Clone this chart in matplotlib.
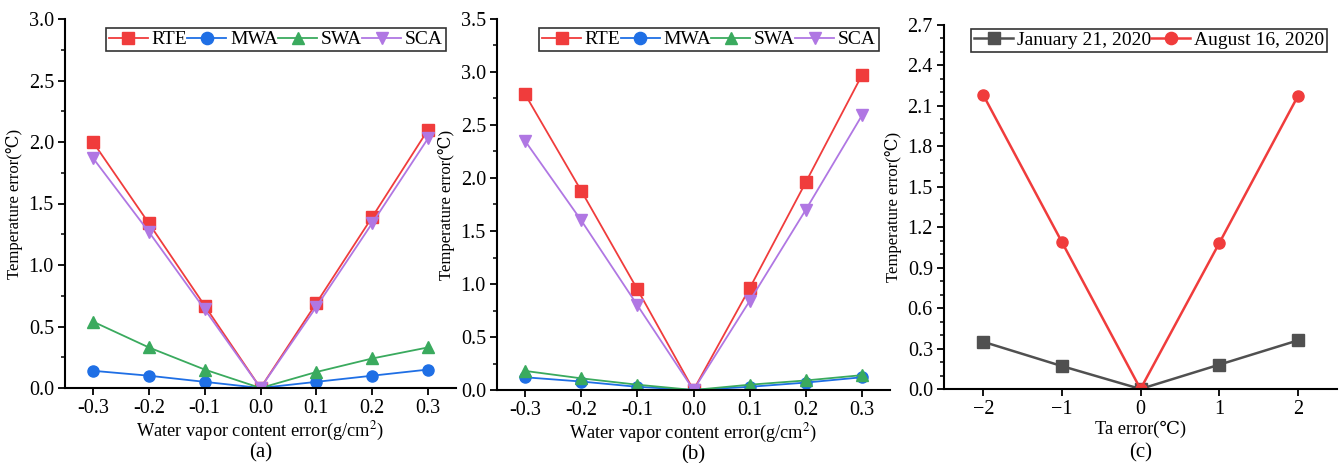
import matplotlib
matplotlib.use("Agg")
import matplotlib.pyplot as plt
from matplotlib.ticker import MultipleLocator, FormatStrFormatter

plt.rcParams['font.family'] = ['Liberation Serif', 'DejaVu Serif']
plt.rcParams['mathtext.fontset'] = 'stix'

# data
wv_x = [-0.3, -0.2, -0.1, 0.0, 0.1, 0.2, 0.3]
a_rte = [2.00, 1.34, 0.67, 0.0, 0.69, 1.39, 2.10]
a_mwa = [0.14, 0.10, 0.05, 0.0, 0.05, 0.10, 0.15]
a_swa = [0.54, 0.33, 0.15, 0.0, 0.13, 0.24, 0.33]
a_sca = [1.87, 1.27, 0.64, 0.0, 0.66, 1.34, 2.03]

b_rte = [2.79, 1.88, 0.95, 0.0, 0.96, 1.96, 2.97]
b_mwa = [0.12, 0.08, 0.03, 0.0, 0.03, 0.07, 0.12]
b_swa = [0.18, 0.11, 0.05, 0.0, 0.05, 0.09, 0.14]
b_sca = [2.35, 1.60, 0.80, 0.0, 0.84, 1.70, 2.59]

ta_x = [-2, -1, 0, 1, 2]
c_jan = [0.35, 0.17, 0.0, 0.18, 0.36]
c_aug = [2.18, 1.09, 0.0, 1.08, 2.17]

series_names = ['RTE', 'MWA', 'SWA', 'SCA']
date_names = ['January 21, 2020', 'August 16, 2020']

RED = '#f03c3c'
BLUE = '#1f6fe5'
GREEN = '#3aaa5e'
PURPLE = '#b077e3'
GRAY = '#505050'

W, H = 1341, 463
fig = plt.figure(figsize=(W / 100, H / 100), dpi=100)

def ax_at(x0, x1, ytop, ybot):
    return fig.add_axes([x0 / W, 1 - ybot / H, (x1 - x0) / W, (ybot - ytop) / H])

axa = ax_at(65, 456, 19, 388)
axb = ax_at(497, 890, 19, 390)
axc = ax_at(944, 1337, 25, 389)

def style(ax):
    for s in ['top', 'right']:
        ax.spines[s].set_visible(False)
    for s in ['left', 'bottom']:
        ax.spines[s].set_linewidth(1.5)
    ax.tick_params(direction='out', width=1.3, length=5, labelsize=14.5, pad=3)
    ax.tick_params(which='minor', direction='out', width=1.1, length=3)

ms = 8
lw = 1.3
for ax, rte, mwa, swa, sca, ymax, lx in [(axa, a_rte, a_mwa, a_swa, a_sca, 3.0, 0.974),
                                         (axb, b_rte, b_mwa, b_swa, b_sca, 3.5, 0.972)]:
    ax.plot(wv_x, rte, '-s', color=RED, lw=lw, ms=ms, label=series_names[0])
    ax.plot(wv_x, mwa, '-o', color=BLUE, lw=lw, ms=ms, label=series_names[1])
    ax.plot(wv_x, swa, '-^', color=GREEN, lw=lw, ms=ms, label=series_names[2])
    ax.plot(wv_x, sca, '-v', color=PURPLE, lw=lw, ms=ms, label=series_names[3])
    ax.set_xlim(-0.35, 0.35)
    ax.set_ylim(0, ymax)
    ax.set_xticks(wv_x)
    ax.xaxis.set_major_formatter(FormatStrFormatter('%.1f'))
    ax.yaxis.set_major_locator(MultipleLocator(0.5))
    ax.yaxis.set_minor_locator(MultipleLocator(0.25))
    ax.yaxis.set_major_formatter(FormatStrFormatter('%.1f'))
    style(ax)
    ax.set_xlabel('Water vapor content error(g/cm$^2$)', fontsize=13.2, labelpad=1)
    ax.set_ylabel('Temperature error(℃)', fontsize=12, labelpad=4)
    leg = ax.legend(ncol=4, loc='upper right', bbox_to_anchor=(lx, 0.976),
                    fontsize=14, frameon=True, fancybox=False, edgecolor='black',
                    handlelength=2.0, handletextpad=0.2, columnspacing=0.0,
                    borderpad=0.15, borderaxespad=0.0, markerscale=1.1)
    leg.get_frame().set_linewidth(1.2)

axc.plot(ta_x, c_jan, '-s', color=GRAY, lw=lw + 0.5, ms=ms, label=date_names[0])
axc.plot(ta_x, c_aug, '-o', color=RED, lw=lw + 0.5, ms=ms, label=date_names[1])
axc.set_xlim(-2.5, 2.5)
axc.set_ylim(0, 2.7)
axc.set_xticks(ta_x)
axc.yaxis.set_major_locator(MultipleLocator(0.3))
axc.yaxis.set_minor_locator(MultipleLocator(0.1))
axc.yaxis.set_major_formatter(FormatStrFormatter('%.1f'))
style(axc)
axc.set_xlabel('Ta error(℃)', fontsize=13.2, labelpad=1)
axc.set_ylabel('Temperature error(℃)', fontsize=12, labelpad=4)
leg = axc.legend(ncol=2, loc='upper right', bbox_to_anchor=(0.975, 0.99),
                 fontsize=14, frameon=True, fancybox=False, edgecolor='black',
                 handlelength=2.0, handletextpad=0.2, columnspacing=0.0,
                 borderpad=0.15, borderaxespad=0.0, markerscale=1.1)
leg.get_frame().set_linewidth(1.2)

for ax, lab in [(axa, '(a)'), (axb, '(b)'), (axc, '(c)')]:
    ax.text(0.5, -0.175, lab, transform=ax.transAxes, ha='center', va='center', fontsize=15)

fig.savefig('out.png', dpi=100)
